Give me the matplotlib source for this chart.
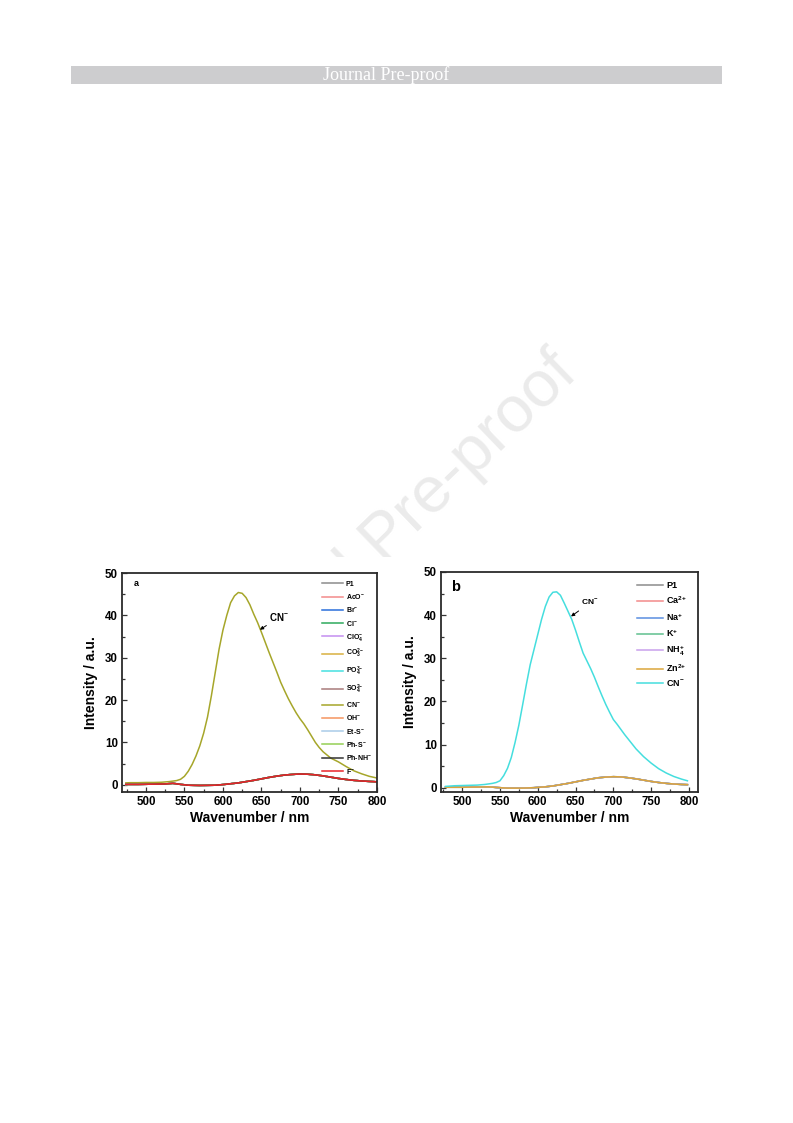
import matplotlib
matplotlib.use("Agg")
import matplotlib.pyplot as plt
from matplotlib.patches import Rectangle
from matplotlib.ticker import MultipleLocator

plt.rcParams['font.family'] = ['Liberation Sans', 'DejaVu Sans']
plt.rcParams['font.weight'] = 'bold'
plt.rcParams['mathtext.default'] = 'regular'

# ---- panel a : anions ----
wl_a = [474, 480, 490, 500, 510, 520, 530, 540, 545, 550, 555, 560, 565, 570, 575,
        580, 585, 590, 595, 600, 605, 610, 615, 620, 625, 630, 635, 640, 645, 650,
        655, 660, 665, 670, 675, 680, 685, 690, 695, 700, 705, 710, 715, 720, 725,
        730, 740, 750, 760, 770, 780, 790, 800]
cn_a = [0.45, 0.5, 0.5, 0.55, 0.55, 0.6, 0.75, 1.0, 1.3, 2.0, 3.2, 4.8, 6.8, 9.2, 12.2,
        16.0, 21.0, 26.5, 32.0, 36.5, 40.0, 43.0, 44.6, 45.4, 45.2, 44.2, 42.5, 40.3, 38.3, 36.0,
        33.6, 31.2, 28.9, 26.6, 24.2, 22.2, 20.3, 18.6, 17.0, 15.6, 14.4, 13.0, 11.5, 10.0, 8.8,
        7.8, 6.3, 5.4, 4.3, 3.3, 2.6, 2.0, 1.6]
base_wl_a = [474, 490, 510, 525, 535, 545, 555, 570, 590, 600, 610, 620, 630, 640, 650,
             660, 670, 680, 690, 700, 710, 720, 730, 740, 750, 760, 770, 780, 790, 800]
base_a = [0.1, 0.1, 0.15, 0.2, 0.35, 0.1, -0.1, -0.15, -0.1, 0.05, 0.25, 0.45, 0.75, 1.05, 1.4,
          1.75, 2.05, 2.3, 2.45, 2.55, 2.5, 2.35, 2.1, 1.8, 1.5, 1.25, 1.05, 0.9, 0.8, 0.7]
labels_a = ['P1', r'AcO$^{-}$', r'Br$^{-}$', r'Cl$^{-}$', r'ClO$_4^{-}$', r'CO$_3^{2{-}}$',
            r'PO$_4^{3{-}}$', r'SO$_4^{2{-}}$', r'CN$^{-}$', r'OH$^{-}$', r'Et-S$^{-}$',
            r'Ph-S$^{-}$', r'Ph-NH$^{-}$', r'F$^{-}$']
colors_a = ['#8c8c8c', '#f28a8a', '#2a6fdb', '#2eaa5c', '#c48ef0', '#d9b040', '#45e0e0',
            '#a87a7a', '#a6a62a', '#f5955f', '#a9cbe8', '#95d055', '#333333', '#e8252a']

# ---- panel b : cations ----
wl_b = [478, 490, 500, 510, 520, 530, 540, 545, 550, 555, 560, 565, 570, 575, 580,
        585, 590, 595, 600, 605, 610, 615, 620, 625, 630, 635, 640, 645, 650, 655,
        660, 665, 670, 675, 680, 685, 690, 695, 700, 705, 710, 715, 720, 730, 740,
        750, 760, 770, 780, 790, 798]
cn_b = [0.3, 0.45, 0.5, 0.55, 0.6, 0.75, 1.0, 1.2, 1.6, 2.8, 4.5, 7.0, 10.5, 14.5, 19.2,
        24.0, 28.5, 32.0, 35.5, 39.0, 42.0, 44.2, 45.3, 45.4, 44.6, 42.8, 40.9, 39.0, 36.5, 33.8,
        31.2, 29.4, 27.6, 25.6, 23.4, 21.3, 19.3, 17.5, 15.8, 14.7, 13.5, 12.3, 11.2, 9.0, 7.2,
        5.7, 4.4, 3.4, 2.6, 2.0, 1.6]
base_wl_b = [478, 500, 520, 535, 545, 560, 580, 595, 610, 620, 630, 640, 650, 660, 670,
             680, 690, 700, 710, 720, 730, 740, 750, 760, 770, 780, 790, 798]
base_b = [0.1, 0.1, 0.15, 0.2, 0.05, -0.1, -0.1, 0.0, 0.2, 0.4, 0.7, 1.0, 1.35, 1.7, 2.0,
          2.3, 2.45, 2.55, 2.5, 2.3, 2.05, 1.75, 1.45, 1.2, 1.0, 0.85, 0.75, 0.7]
labels_b = ['P1', r'Ca$^{2{+}}$', r'Na$^{+}$', r'K$^{+}$', r'NH$_4^{+}$', r'Zn$^{2{+}}$',
            r'CN$^{-}$']
colors_b = ['#8c8c8c', '#f28a8a', '#5a8ee0', '#5fc08e', '#c9a0ec', '#dba63a', '#45dede']

W, H = 793, 1123
fig = plt.figure(figsize=(W / 100, H / 100), dpi=100)

# header bar
fig.patches.append(Rectangle((71 / W, 1 - 84 / H), 651 / W, 18 / H, transform=fig.transFigure,
                             facecolor='#cdcdcf', edgecolor='none', zorder=1))
fig.text(386 / W, 1 - 75.5 / H, 'Journal Pre-proof', color='white', fontsize=13,
         family='Liberation Serif', weight='normal', ha='center', va='center', zorder=2)

# watermark behind the figure image
fig.text(386 / W, 1 - 538 / H, 'Journal Pre-proof', color='#ebebeb', fontsize=47,
         weight='normal', rotation=44, ha='center', va='center', rotation_mode='anchor',
         zorder=-3)
fig.patches.append(Rectangle((80 / W, 1 - 835 / H), 632 / W, 278 / H, transform=fig.transFigure,
                             facecolor='white', edgecolor='none', zorder=-2))


def style_axes(ax, xlim, ylim):
    ax.set_xlim(*xlim)
    ax.set_ylim(*ylim)
    ax.xaxis.set_major_locator(MultipleLocator(50))
    ax.xaxis.set_minor_locator(MultipleLocator(25))
    ax.yaxis.set_major_locator(MultipleLocator(10))
    ax.yaxis.set_minor_locator(MultipleLocator(5))
    ax.tick_params(which='both', direction='in', top=False, right=False,
                   labelsize=8.3, width=0.9, color='#333333', pad=3)
    ax.tick_params(which='major', length=3.5)
    ax.tick_params(which='minor', length=2)
    for s in ax.spines.values():
        s.set_linewidth(1.3)
        s.set_color('#2b2b2b')
    ax.set_xlabel('Wavenumber / nm', fontsize=10, fontweight='bold', labelpad=2)
    ax.set_ylabel('Intensity / a.u.', fontsize=10, fontweight='bold', labelpad=5)


# panel a
ax1 = fig.add_axes([122 / W, 1 - 792 / H, 255 / W, 219 / H])
for lab, col in zip(labels_a, colors_a):
    if lab == r'CN$^{-}$':
        ax1.plot(wl_a, cn_a, color=col, lw=1.1, label=lab)
    else:
        ax1.plot(base_wl_a, base_a, color=col, lw=1.1, label=lab)
style_axes(ax1, (469, 800), (-1.7, 50))
ax1.text(0.045, 0.94, 'a', transform=ax1.transAxes, fontsize=6.5, fontweight='bold')
ax1.annotate(r'CN$^{-}$', xy=(648, 36.6), xytext=(660, 38.6), fontsize=7, fontweight='bold',
             arrowprops=dict(arrowstyle='-|>', color='black', lw=0.7, mutation_scale=5,
                             shrinkA=0, shrinkB=0))
ax1.legend(loc='upper left', bbox_to_anchor=(0.783, 0.965), frameon=False, fontsize=5,
           handlelength=3.1, handletextpad=0.35, labelspacing=0.62, borderpad=0,
           borderaxespad=0)

# panel b
ax2 = fig.add_axes([441 / W, 1 - 792 / H, 257 / W, 220 / H])
for lab, col in zip(labels_b, colors_b):
    if lab == r'CN$^{-}$':
        ax2.plot(wl_b, cn_b, color=col, lw=1.1, label=lab)
    else:
        ax2.plot(base_wl_b, base_b, color=col, lw=1.1, label=lab)
style_axes(ax2, (472, 812), (-1.0, 50))
ax2.text(0.04, 0.915, 'b', transform=ax2.transAxes, fontsize=10.5, fontweight='bold')
ax2.annotate(r'CN$^{-}$', xy=(644, 39.7), xytext=(657, 42.2), fontsize=6, fontweight='bold',
             arrowprops=dict(arrowstyle='-|>', color='black', lw=0.7, mutation_scale=5,
                             shrinkA=0, shrinkB=0))
ax2.legend(loc='upper left', bbox_to_anchor=(0.763, 0.958), frameon=False, fontsize=6.5,
           handlelength=2.9, handletextpad=0.35, labelspacing=0.5, borderpad=0,
           borderaxespad=0)

fig.savefig('out.png', dpi=100)
